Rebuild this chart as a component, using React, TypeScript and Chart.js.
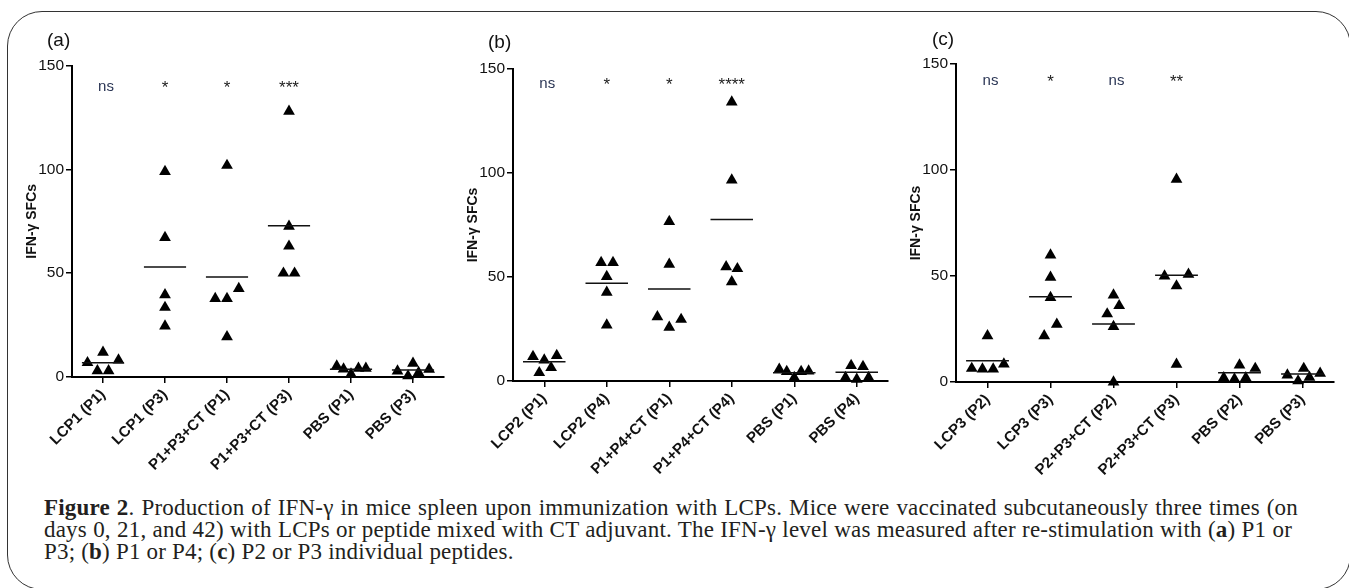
import React, { useEffect, useRef } from 'react';
import { Chart, registerables } from 'chart.js';

Chart.register(...registerables);

const SANS = "'Liberation Sans', Arial, sans-serif";
const SERIF = "'Liberation Serif', 'Times New Roman', serif";

// ---------- Panel (a) ----------
const labelsA = ['LCP1 (P1)', 'LCP1 (P3)', 'P1+P3+CT (P1)', 'P1+P3+CT (P3)', 'PBS (P1)', 'PBS (P3)'];
const valuesA = [
  [6.9, 11.9, 8.2, 3.0, 3.0],
  [99.0, 67.2, 39.6, 33.5, 24.5],
  [101.9, 42.6, 37.8, 37.8, 19.4],
  [128.0, 72.6, 63.0, 50.0, 50.0],
  [5.3, 3.8, 1.4, 4.2, 4.2],
  [2.9, 0.5, 6.6, 2.1, 3.7],
];
const jitterA = [
  [-0.25, 0, 0.25, -0.09, 0.09],
  [0, 0, 0, 0, 0],
  [0, 0.19, -0.19, 0, 0],
  [0, 0, 0, -0.09, 0.09],
  [-0.23, -0.12, 0, 0.12, 0.24],
  [-0.25, -0.08, 0, 0.09, 0.26],
];
const meansA = [6.9, 53.0, 48.2, 72.9, 3.7, 3.4];
const sigA = ['ns', '*', '*', '***', '', ''];

// ---------- Panel (b) ----------
const labelsB = ['LCP2 (P1)', 'LCP2 (P4)', 'P1+P4+CT (P1)', 'P1+P4+CT (P4)', 'PBS (P1)', 'PBS (P4)'];
const valuesB = [
  [11.7, 10.1, 12.2, 4.0, 6.4],
  [56.9, 56.9, 50.2, 42.6, 26.9],
  [76.6, 56.1, 30.9, 25.8, 29.6],
  [134.1, 96.6, 54.9, 54.0, 47.7],
  [5.6, 4.5, 1.6, 4.5, 4.8],
  [7.4, 6.9, 1.6, 0.8, 1.6],
];
const jitterB = [
  [-0.18, 0, 0.2, -0.08, 0.11],
  [-0.09, 0.1, 0, 0, 0],
  [0, 0, -0.19, 0, 0.19],
  [0, 0, -0.09, 0.09, 0],
  [-0.24, -0.12, 0, 0.11, 0.23],
  [-0.09, 0.1, -0.18, 0, 0.19],
];
const meansB = [9.3, 47.0, 44.2, 77.7, 4.0, 4.2];
const sigB = ['ns', '*', '*', '****', '', ''];

// ---------- Panel (c) ----------
const labelsC = ['LCP3 (P2)', 'LCP3 (P3)', 'P2+P3+CT (P2)', 'P2+P3+CT (P3)', 'PBS (P2)', 'PBS (P3)'];
const valuesC = [
  [21.8, 6.4, 6.1, 6.1, 8.5],
  [59.9, 49.4, 39.8, 21.8, 27.2],
  [41.0, 36.0, 32.1, 26.1, 0],
  [95.6, 50.0, 50.8, 45.3, 8.3],
  [2.0, 1.4, 2.0, 8.0, 6.4],
  [3.3, 0.5, 6.4, 2.2, 4.1],
];
const jitterC = [
  [0, -0.25, -0.08, 0.09, 0.26],
  [0, 0, 0, -0.1, 0.1],
  [0, 0.09, -0.1, 0, 0],
  [0, -0.19, 0.19, 0, 0],
  [-0.25, -0.08, 0.1, 0, 0.25],
  [-0.24, -0.07, 0.02, 0.11, 0.28],
];
const meansC = [10.0, 40.2, 27.4, 50.3, 4.4, 3.8];
const sigC = ['ns', '*', 'ns', '**', '', ''];

const yTicks = [0, 50, 100, 150];
const yTitle = 'IFN-γ SFCs';

type PanelProps = {
  labels: string[];
  values: number[][];
  jitter: number[][];
  means: number[];
  sig: string[];
  sigY: number;
  axisLeft: number;
  axisRight: number;
  top: number;
  bottom: number;
};

const AXIS_W = 72;
const RIGHT_PAD = 12;
const CANVAS_H = 492;
const MEAN_HALF = 0.34;

function Panel(p: PanelProps) {
  const ref = useRef<HTMLCanvasElement>(null);
  const canvasLeft = p.axisLeft - AXIS_W;
  const width = p.axisRight - canvasLeft + RIGHT_PAD;

  useEffect(() => {
    if (!ref.current) return;
    const points: { x: number; y: number }[] = [];
    p.values.forEach((vals, i) =>
      vals.forEach((v, j) => points.push({ x: i + p.jitter[i][j], y: v }))
    );
    const meanSegs: { x: number; y: number | null }[] = [];
    p.means.forEach((m, i) => {
      meanSegs.push({ x: i - MEAN_HALF, y: m }, { x: i + MEAN_HALF, y: m }, { x: i + 0.5, y: null });
    });

    const sigPlugin = {
      id: 'sig',
      afterDatasetsDraw(chart: any) {
        const { ctx } = chart;
        const xs = chart.scales.x;
        const ys = chart.scales.y;
        ctx.save();
        p.sig.forEach((s, i) => {
          if (!s) return;
          const star = s.includes('*');
          ctx.font = `${star ? 17 : 15}px ${SANS}`;
          ctx.fillStyle = star ? '#1c1c1c' : '#2b3655';
          ctx.textAlign = 'center';
          ctx.textBaseline = 'alphabetic';
          ctx.fillText(s, xs.getPixelForValue(i) + (star ? 0 : 3), ys.getPixelForValue(p.sigY) + (star ? 2 : 0));
        });
        ctx.restore();
      },
    };

    const chart = new Chart(ref.current, {
      type: 'scatter',
      data: {
        datasets: [
          {
            type: 'line',
            data: meanSegs as any,
            borderColor: '#111',
            borderWidth: 1.5,
            pointRadius: 0,
            spanGaps: false,
            clip: false as any,
            order: 0,
          } as any,
          {
            data: points,
            pointStyle: 'triangle',
            pointRadius: 6.8,
            pointHoverRadius: 6.8,
            backgroundColor: '#000',
            borderColor: '#000',
            borderWidth: 0,
            clip: false as any,
            order: 1,
          } as any,
        ],
      },
      options: {
        animation: false,
        responsive: false,
        maintainAspectRatio: false,
        events: [],
        layout: { padding: { top: p.top, right: RIGHT_PAD, left: 0, bottom: 0 } },
        plugins: { legend: { display: false }, tooltip: { enabled: false } },
        scales: {
          x: {
            type: 'linear',
            min: -0.5,
            max: 5.5,
            afterBuildTicks: (s: any) => {
              s.ticks = p.labels.map((_, i) => ({ value: i }));
            },
            afterFit: (s: any) => {
              s.height = CANVAS_H - p.bottom;
            },
            ticks: {
              callback: (v: any) => p.labels[v] ?? '',
              minRotation: 45,
              maxRotation: 45,
              autoSkip: false,
              padding: 3,
              color: '#111',
              font: { family: SANS, size: 15, weight: 'bold' },
            },
            grid: {
              display: true,
              drawOnChartArea: false,
              drawTicks: true,
              tickLength: 6,
              color: '#000',
              lineWidth: 1.5,
            },
            border: { display: true, color: '#000', width: 2 },
          },
          y: {
            type: 'linear',
            min: 0,
            max: 150,
            afterBuildTicks: (s: any) => {
              s.ticks = yTicks.map((v) => ({ value: v }));
            },
            afterFit: (s: any) => {
              s.width = AXIS_W;
            },
            ticks: {
              padding: 2,
              color: '#111',
              font: { family: SANS, size: 15.5 },
            },
            grid: {
              display: true,
              drawOnChartArea: false,
              drawTicks: true,
              tickLength: 6,
              color: '#000',
              lineWidth: 1.5,
            },
            border: { display: true, color: '#000', width: 2 },
            title: {
              display: true,
              text: yTitle,
              color: '#111',
              font: { family: SANS, size: 14, weight: 'bold' },
              padding: { top: 23.5, bottom: 0 },
            },
          },
        },
      },
      plugins: [sigPlugin],
    } as any);
    return () => chart.destroy();
  }, []);

  return (
    <canvas
      ref={ref}
      width={width}
      height={CANVAS_H}
      style={{ position: 'absolute', left: canvasLeft, top: 0, width, height: CANVAS_H }}
    />
  );
}

const panelLetter: React.CSSProperties = {
  position: 'absolute',
  fontFamily: SANS,
  fontSize: 19,
  lineHeight: '20px',
  color: '#111',
};

const capLine: React.CSSProperties = {
  position: 'absolute',
  left: 44,
  fontFamily: SERIF,
  fontSize: 23,
  lineHeight: '22px',
  letterSpacing: '0.2px',
  whiteSpace: 'nowrap',
  color: '#231f20',
};

export default function App() {
  return (
    <div
      style={{
        position: 'fixed',
        left: 0,
        top: 0,
        width: 1349,
        height: 588,
        overflow: 'hidden',
        background: '#fff',
      }}
    >
      <div
        style={{
          position: 'absolute',
          left: 7,
          top: 11,
          width: 1344,
          height: 579,
          border: '1.5px solid #333',
          borderRadius: 35,
          boxSizing: 'border-box',
        }}
      />
      <Panel labels={labelsA} values={valuesA} jitter={jitterA} means={meansA} sig={sigA} sigY={138}
        axisLeft={72} axisRight={444} top={65.6} bottom={377} />
      <Panel labels={labelsB} values={valuesB} jitter={jitterB} means={meansB} sig={sigB} sigY={141}
        axisLeft={513} axisRight={888} top={69} bottom={381} />
      <Panel labels={labelsC} values={valuesC} jitter={jitterC} means={meansC} sig={sigC} sigY={140}
        axisLeft={956} axisRight={1334} top={64} bottom={382} />
      <div style={{ ...panelLetter, left: 47, top: 30 }}>(a)</div>
      <div style={{ ...panelLetter, left: 488, top: 32 }}>(b)</div>
      <div style={{ ...panelLetter, left: 932, top: 29 }}>(c)</div>
      <div style={{ ...capLine, top: 497, width: 1254, textAlignLast: 'justify' as any }}>
        <b>Figure 2</b>. Production of IFN-γ in mice spleen upon immunization with LCPs. Mice were vaccinated subcutaneously three times (on
      </div>
      <div style={{ ...capLine, top: 519, width: 1248, textAlignLast: 'justify' as any }}>
        days 0, 21, and 42) with LCPs or peptide mixed with CT adjuvant. The IFN-γ level was measured after re-stimulation with (<b>a</b>) P1 or
      </div>
      <div style={{ ...capLine, top: 541 }}>
        P3; (<b>b</b>) P1 or P4; (<b>c</b>) P2 or P3 individual peptides.
      </div>
    </div>
  );
}
